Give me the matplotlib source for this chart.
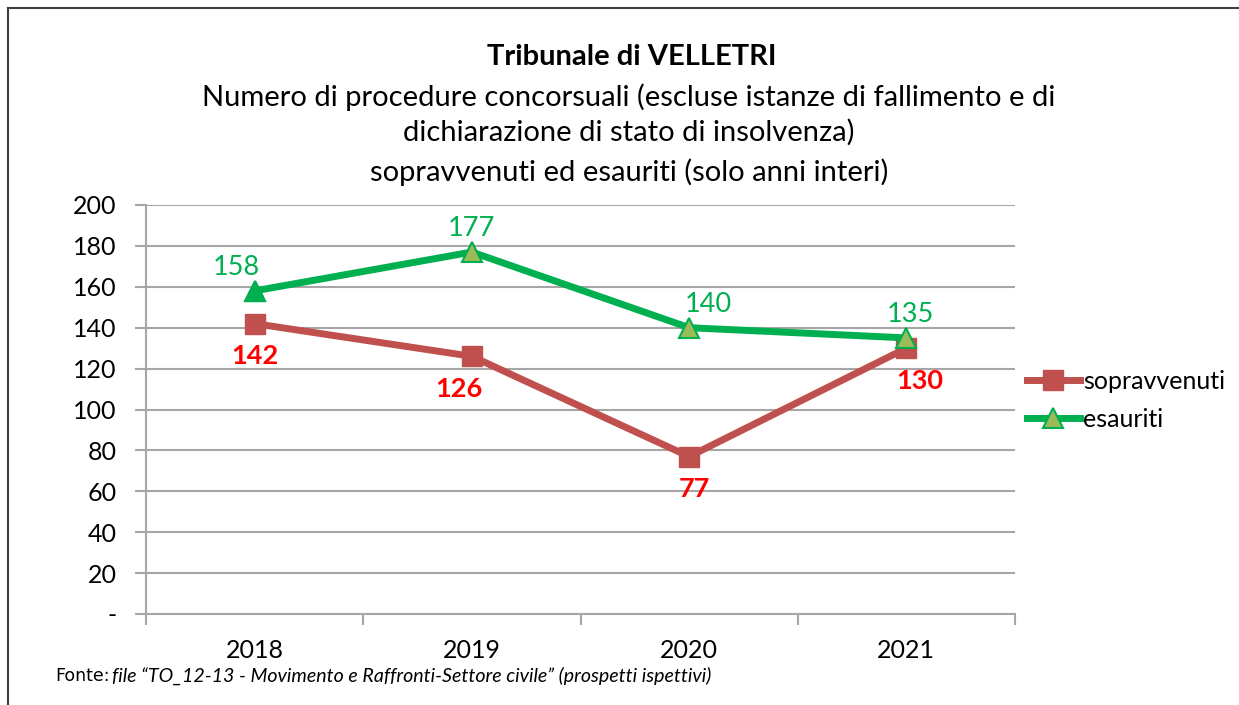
import matplotlib
matplotlib.use("Agg")
import matplotlib.pyplot as plt
from matplotlib.lines import Line2D

years = ["2018", "2019", "2020", "2021"]
sopravvenuti = [142, 126, 77, 130]
esauriti = [158, 177, 140, 135]
yticks = [0, 20, 40, 60, 80, 100, 120, 140, 160, 180, 200]
ytick_labels = ["-"] + [str(v) for v in yticks[1:]]

# label nudges (points), as placed in the original
green_dx = [-13, 0, 14, 3]
red_dx = [0, -9, 4, 10]

plt.rcParams['font.family'] = ['Lato', 'DejaVu Sans']

red = '#C0504D'
green = '#00B050'
olive = '#9BBB59'
grid = '#A6A6A6'

fig = plt.figure(figsize=(12.39, 7.05), dpi=100)
ax = fig.add_axes([146/1239, 1-614/705, (1015-146)/1239, (614-205)/705])

x = list(range(len(years)))
ax.plot(x, sopravvenuti, color=red, lw=5, marker='s', ms=15,
        mfc=red, mec=red, zorder=3)
ax.plot(x, esauriti, color=green, lw=5, marker='^', ms=14,
        mfc=olive, mec=green, mew=1.5, zorder=4)
# first point of esauriti has a solid marker
ax.plot(x[:1], esauriti[:1], ls='none', marker='^', ms=14,
        mfc=green, mec=green, zorder=5)

for xi, v, dx in zip(x, esauriti, green_dx):
    ax.annotate(str(v), (xi, v), xytext=(dx, 8), textcoords='offset points',
                ha='center', va='bottom', color=green, fontsize=19.5)
for xi, v, dx in zip(x, sopravvenuti, red_dx):
    ax.annotate(str(v), (xi, v), xytext=(dx, -15), textcoords='offset points',
                ha='center', va='top', color='#FF0000', fontsize=19.5,
                fontweight='bold')

ax.set_xlim(-0.5, 3.5)
ax.set_ylim(0, 200)
ax.set_yticks(yticks)
ax.set_yticklabels(ytick_labels)
ax.set_xticks(x)
ax.set_xticklabels(years)
ax.set_xticks([i - 0.5 for i in range(len(years) + 1)], minor=True)
ax.tick_params(axis='x', which='major', length=0, pad=18, labelsize=18)
ax.tick_params(axis='x', which='minor', length=8, color=grid, width=1.5)
ax.tick_params(axis='y', length=8, color=grid, width=1.5, labelsize=18, pad=13)
ax.yaxis.grid(True, color=grid, lw=1.5)
ax.set_axisbelow(True)
for s in ['top', 'right']:
    ax.spines[s].set_visible(False)
ax.spines['left'].set_color(grid)
ax.spines['bottom'].set_color(grid)
ax.spines['left'].set_linewidth(1.5)
ax.spines['bottom'].set_linewidth(1.5)

fig.text(632/1239, 1-57/705, "Tribunale di VELLETRI", ha='center', va='center',
         fontsize=21, fontweight='bold')
fig.text(629/1239, 1-97/705, "Numero di procedure concorsuali (escluse istanze di fallimento e di",
         ha='center', va='center', fontsize=21)
fig.text(629/1239, 1-132/705, "dichiarazione di stato di insolvenza)",
         ha='center', va='center', fontsize=21)
fig.text(629/1239, 1-172/705, "sopravvenuti ed esauriti (solo anni interi)",
         ha='center', va='center', fontsize=21)

fig.text(55/1239, 1-676/705, "Fonte:", ha='left', va='center', fontsize=12.5,
         family='DejaVu Sans')
fig.text(112/1239, 1-676/705,
         "file \u201cTO_12-13 - Movimento e Raffronti-Settore civile\u201d (prospetti ispettivi)",
         ha='left', va='center', fontsize=14.1, style='italic')

handles = [Line2D([], [], color=red, lw=5, marker='s', ms=15, mfc=red, mec=red),
           Line2D([], [], color=green, lw=5, marker='^', ms=14, mfc=olive, mec=green, mew=1.5)]
fig.legend(handles, ["sopravvenuti", "esauriti"], loc='center left',
           bbox_to_anchor=(1027/1239, 1-400/705), frameon=False, fontsize=18,
           handlelength=2.1, handletextpad=0.15, labelspacing=0.6,
           borderaxespad=0, borderpad=0)

# outer frame (top and left)
fig.add_artist(Line2D([8/1239, 1], [1-8/705, 1-8/705], color='#404040', lw=1.5))
fig.add_artist(Line2D([8/1239, 8/1239], [0, 1-8/705], color='#404040', lw=1.5))

fig.savefig('out.png', dpi=100)
